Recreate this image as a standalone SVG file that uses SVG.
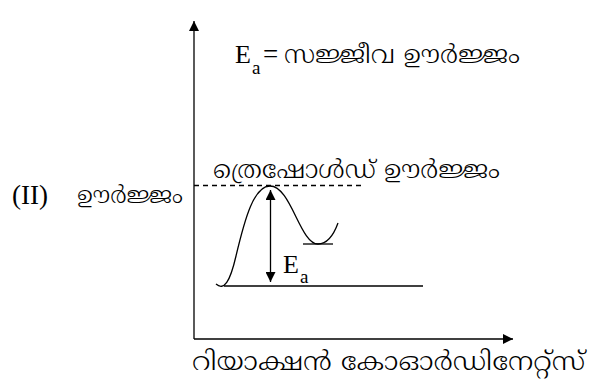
<svg xmlns="http://www.w3.org/2000/svg" width="593" height="379" viewBox="0 0 593 379">
<defs>
<marker id="ah" viewBox="0 0 10 10" refX="10" refY="5" markerWidth="10" markerHeight="10" markerUnits="userSpaceOnUse" orient="auto-start-reverse">
<path d="M0,0 L10,5 L0,10 z" fill="#000"/>
</marker>
</defs>
<style>
.ln{stroke:#000;stroke-width:1.3;fill:none}
.ser{font-family:"Liberation Serif","DejaVu Serif",serif;fill:#000}
.ml{font-family:"Noto Serif Malayalam","Noto Sans Malayalam","Noto Sans","DejaVu Sans",sans-serif;font-weight:300;fill:#000}
</style>
<rect width="593" height="379" fill="#fff"/>
<g id="axes">
<line class="ln" x1="194" y1="339" x2="194" y2="21" marker-end="url(#ah)"/>
<line class="ln" x1="194" y1="339" x2="513" y2="339" marker-end="url(#ah)"/>
</g>
<g id="curve">
<path class="ln" d="M216,284 C224,291 230,282 236,256 C245,218 254,186 270,186 C291,186 300,244 318,244 C328,244 334,234 338,223"/>
<line class="ln" x1="303" y1="244" x2="333" y2="244"/>
<line class="ln" x1="224" y1="286" x2="423" y2="286"/>
<line class="ln" x1="194" y1="185.5" x2="362" y2="185.5" stroke-dasharray="5,4"/>
</g>
<g id="connectors">
<line class="ln" x1="270.5" y1="190" x2="270.5" y2="282" marker-start="url(#ah)" marker-end="url(#ah)"/>
</g>
<g id="labels">
<text class="ser" x="235" y="63" font-size="26">E<tspan x="252" font-size="19" dy="11">a</tspan><tspan x="263" font-size="27" dy="-11">=</tspan></text>
<text class="ml" x="284" y="63" font-size="25" textLength="236" lengthAdjust="spacingAndGlyphs">സജ്ജീവ ഊർജ്ജം</text>
<text class="ml" x="213" y="178" font-size="25" textLength="287" lengthAdjust="spacingAndGlyphs">ത്രെഷോൾഡ് ഊർജ്ജം</text>
<text class="ser" x="12" y="204" font-size="27">(II)</text>
<text class="ml" x="77" y="203" font-size="24" textLength="106" lengthAdjust="spacingAndGlyphs">ഊർജ്ജം</text>
<text class="ser" x="283" y="273" font-size="26">E<tspan x="300" font-size="19" dy="10">a</tspan></text>
<text class="ml" x="192" y="370" font-size="26" textLength="393" lengthAdjust="spacingAndGlyphs">റിയാക്ഷൻ കോഓർഡിനേറ്റ്സ്</text>
</g>
</svg>
